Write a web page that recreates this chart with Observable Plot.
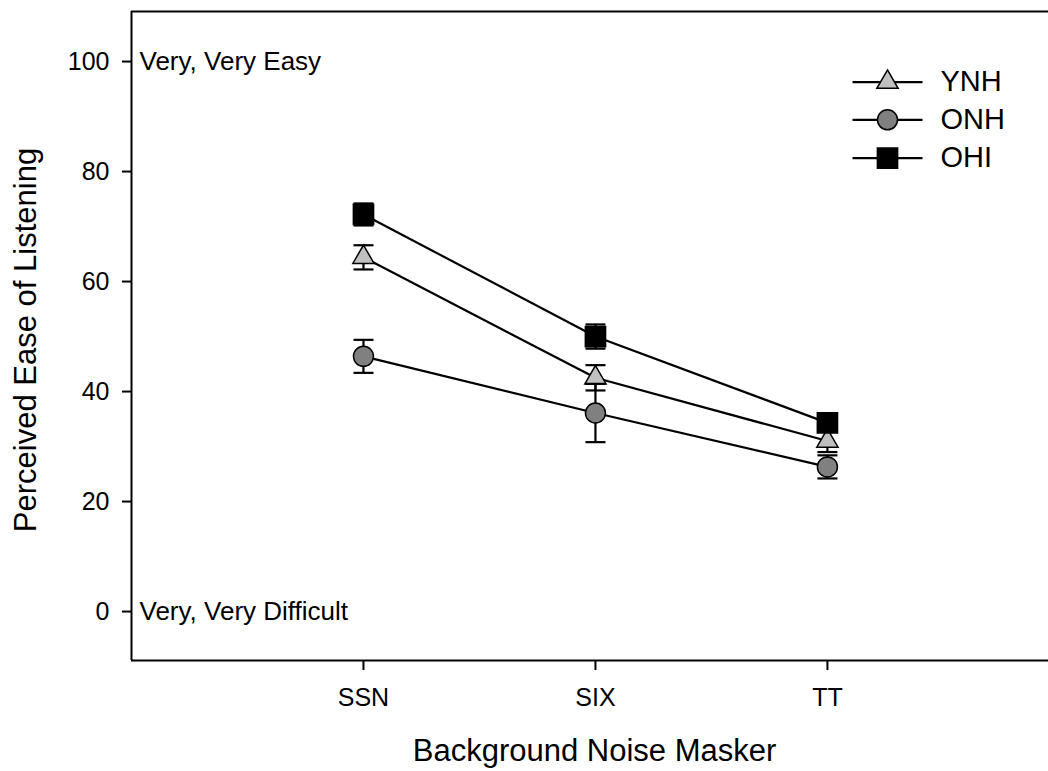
<!DOCTYPE html>
<html>
<head>
<meta charset="utf-8">
<script src="https://cdn.jsdelivr.net/npm/d3@7"></script>
<script src="https://cdn.jsdelivr.net/npm/@observablehq/plot@0.6"></script>
<style>
  html, body { margin: 0; padding: 0; background: #fff; }
  #chart svg { display: block; }
</style>
</head>
<body>
<div id="chart"></div>
<script>
// ---- data ----
const maskers = ["SSN", "SIX", "TT"];
const groups = ["YNH", "ONH", "OHI"];
const ynhMean = [64.4, 42.5, 31.0];
const ynhErr  = [2.2, 2.3, 2.0];
const onhMean = [46.4, 36.1, 26.3];
const onhErr  = [3.0, 5.3, 2.1];
const ohiMean = [72.2, 50.0, 34.3];
const ohiErr  = [2.0, 2.2, 1.6];
const yTicks = [0, 20, 40, 60, 80, 100];
const anchorValues = [0, 100];
const anchorLabels = ["Very, Very Difficult", "Very, Very Easy"];

// ---- build table ----
const means = {YNH: ynhMean, ONH: onhMean, OHI: ohiMean};
const errs = {YNH: ynhErr, ONH: onhErr, OHI: ohiErr};
const rows = groups.flatMap(g => maskers.map((m, i) => ({
  group: g, masker: m, pos: i + 1,
  mean: means[g][i], lo: means[g][i] - errs[g][i], hi: means[g][i] + errs[g][i]
})));
const anchors = anchorValues.map((v, i) => ({value: v, label: anchorLabels[i]}));

const style = {
  YNH: {symbol: "triangle", r: 7.9, fill: "#c0c0c0"},
  ONH: {symbol: "circle", r: 10, fill: "#808080"},
  OHI: {symbol: "square", r: 11.4, fill: "#000000"}
};
const lineSymbol = {draw(ctx, size) { const w = Math.sqrt(size / Math.PI); ctx.moveTo(-w, 0); ctx.lineTo(w, 0); }};

const xDomain = [0, 3.953];
const yDomain = [-8.9, 109.1];

const marks = [];
// frame (top, bottom, left)
marks.push(Plot.ruleY([yDomain[0], yDomain[1]], {stroke: "#000", strokeWidth: 2}));
marks.push(Plot.ruleX([xDomain[0]], {stroke: "#000", strokeWidth: 2}));
// axes
marks.push(Plot.axisY({ticks: yTicks, tickSize: 9, tickPadding: 13, fontSize: 25, label: null, strokeWidth: 2}));
marks.push(Plot.axisX({ticks: maskers.map((m, i) => i + 1), tickFormat: d => maskers[d - 1], tickSize: 10, tickPadding: 18, fontSize: 25, label: null, strokeWidth: 2}));
// anchor annotations
marks.push(Plot.text(anchors, {x: () => xDomain[0], y: "value", text: "label", textAnchor: "start", lineAnchor: "middle", dx: 8, fontSize: 26, fill: "#000"}));
// lines
marks.push(Plot.line(rows, {x: "pos", y: "mean", z: "group", stroke: "#000", strokeWidth: 2.2}));
// error bar stems
marks.push(Plot.ruleX(rows, {x: "pos", y1: "lo", y2: "hi", stroke: "#000", strokeWidth: 2.2}));
// symbols
for (const g of groups) {
  const s = style[g];
  marks.push(Plot.dot(rows.filter(d => d.group === g), {x: "pos", y: "mean", symbol: s.symbol, r: s.r, fill: s.fill, stroke: "#000", strokeWidth: 1.5}));
}
// error bar caps
marks.push(Plot.dot(rows, {x: "pos", y: "hi", symbol: lineSymbol, r: 10, stroke: "#000", strokeWidth: 2.2, fill: "none"}));
marks.push(Plot.dot(rows, {x: "pos", y: "lo", symbol: lineSymbol, r: 10, stroke: "#000", strokeWidth: 2.2, fill: "none"}));
// legend
const legendDy = [70.7, 108.3, 146.7];
groups.forEach((g, i) => {
  const s = style[g];
  marks.push(Plot.dot([g], {frameAnchor: "top-left", dx: 756, dy: legendDy[i], symbol: lineSymbol, r: 35, stroke: "#000", strokeWidth: 2.2, fill: "none"}));
  marks.push(Plot.dot([g], {frameAnchor: "top-left", dx: 756, dy: legendDy[i], symbol: s.symbol, r: s.r, fill: s.fill, stroke: "#000", strokeWidth: 1.5}));
  marks.push(Plot.text([g], {frameAnchor: "top-left", dx: 809, dy: legendDy[i], text: d => d, textAnchor: "start", lineAnchor: "middle", fontSize: 29, fill: "#000"}));
});
// axis titles
marks.push(Plot.text(["Background Noise Masker"], {frameAnchor: "bottom", dx: 4.5, dy: 91, text: d => d, textAnchor: "middle", lineAnchor: "middle", fontSize: 31, fill: "#000"}));
marks.push(Plot.text(["Perceived Ease of Listening"], {frameAnchor: "left", dx: -105.5, dy: 4, rotate: -90, text: d => d, textAnchor: "middle", lineAnchor: "middle", fontSize: 31, fill: "#000"}));

const chart = Plot.plot({
  width: 1048,
  height: 771,
  marginLeft: 131,
  marginRight: 0,
  marginTop: 11,
  marginBottom: 111,
  x: {type: "linear", domain: xDomain},
  y: {domain: yDomain},
  style: {fontFamily: "'Liberation Sans', Arial, sans-serif", background: "#fff", color: "#000", overflow: "visible"},
  marks
});
document.getElementById("chart").appendChild(chart);
</script>
</body>
</html>
